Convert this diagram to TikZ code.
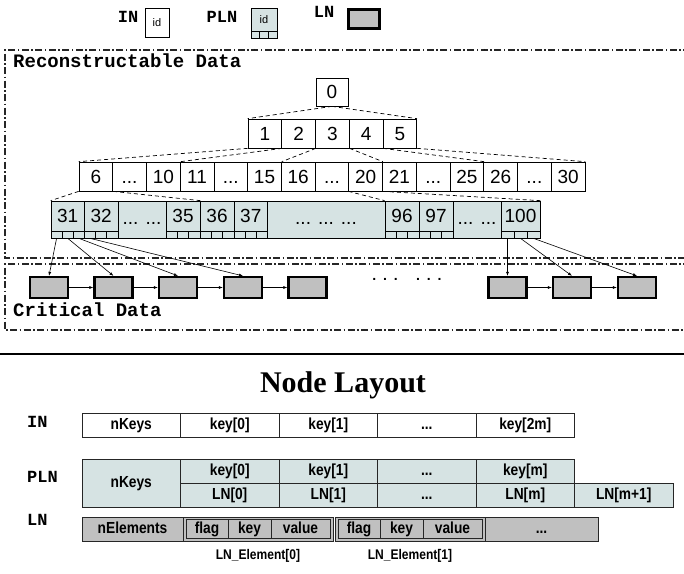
\documentclass[tikz,border=0pt]{standalone}
\usepackage{fontspec}
\setmainfont{Liberation Serif}
\setsansfont{Liberation Sans}
\setmonofont{Liberation Mono}
\newfontfamily\narrowfont[FakeStretch=0.86]{Liberation Sans}
\usetikzlibrary{arrows.meta, positioning, calc}
\definecolor{plnblue}{RGB}{214,227,227}
\definecolor{lngray}{RGB}{192,192,192}
\newcommand{\skipdots}{...}
\newcommand{\treefont}{\sffamily\fontsize{19}{21}\selectfont}
\newcommand{\tagfont}{\ttfamily\bfseries\fontsize{17}{19}\selectfont}
\newcommand{\fieldfont}{\narrowfont\bfseries\fontsize{16}{18}\selectfont}

\begin{document}
\begin{tikzpicture}[
    x=1pt, y=-1pt,
    idx/.style={
        draw=black,
        rectangle,
        minimum width=33.73,
        minimum height=29,
        inner sep=0pt,
        text height=13.5pt,
        text depth=0pt,
        line width=0.7pt,
        font=\treefont
    },
    pcell/.style={
        draw=black,
        fill=plnblue,
        rectangle,
        minimum height=30,
        inner sep=0pt,
        line width=0.7pt,
        font=\treefont
    },
    subcell/.style={
        draw=black,
        fill=plnblue,
        rectangle,
        minimum height=7,
        inner sep=0pt,
        line width=0.7pt
    },
    lnbox/.style={
        draw=black,
        fill=lngray,
        rectangle,
        minimum width=38,
        minimum height=21,
        inner sep=0pt,
        line width=2.2pt
    },
    link/.style={
        dash pattern=on 4pt off 3pt,
        line width=0.7pt
    },
    arrow/.style={
        -{Latex[length=4pt,width=3pt]},
        line width=0.6pt,
        draw=black
    },
    region/.style={
        dash pattern=on 7pt off 2.5pt on 1.5pt off 2.5pt,
        line width=1.1pt,
        draw=black!85
    },
    tag/.style={
        font=\tagfont,
        inner sep=1pt
    },
    field/.style={
        draw=black!85,
        rectangle,
        minimum height=24,
        inner sep=0pt,
        text height=11.5pt,
        text depth=3.5pt,
        line width=0.7pt,
        font=\fieldfont
    }
]
\useasboundingbox (0,0) rectangle (684,573);

% ============================================================
% Legend
% ============================================================

\node[tag] (kin) at (128,17) {IN};
\node[draw=black, minimum width=24, minimum height=29, inner sep=0pt,
      font=\sffamily\fontsize{11}{11}\selectfont] (kinbox) at (157,22.5) {id};

\node[tag] (kpln) at (222,17) {PLN};
\node[pcell, minimum width=26, minimum height=23,
      font=\sffamily\fontsize{11}{11}\selectfont] (kplbox) at (264,19.5) {id};
\foreach \s in {1,2,3}
    \node[subcell, minimum width=26/3] (kpl-\s) at ({251+26*(\s-0.5)/3},35) {};

\node[tag] (kln) at (324,12) {LN};
\node[lnbox, minimum width=31, minimum height=19] (klnbox) at (364,19) {};

% ============================================================
% Reconstructable data: index tree
% ============================================================

\draw[region] (690,50) -- (5,50) -- (5,258) -- (690,258);
\node[tag, anchor=west, font=\ttfamily\bfseries\fontsize{19}{21}\selectfont] (recon) at (12,61) {Reconstructable Data};

\node[idx, minimum width=32, minimum height=28] (r0) at (332,92) {0};

\foreach \k in {1,...,5}
    \node[idx] (a\k) at ({248+33.73*(\k-0.5)},133.5) {\k};

\foreach \t [count=\k] in {6,\skipdots,10,11,\skipdots,15,16,\skipdots,20,21,\skipdots,25,26,\skipdots,30}
    \node[idx] (b\k) at ({79+33.73*(\k-0.5)},176.5) {\t};

% packed leaf nodes
\node[draw=black, fill=plnblue, rectangle, minimum width=489, minimum height=37,
      inner sep=0pt, line width=0.7pt] (prow) at (295.5,219.5) {};
\foreach \t/\x/\w in {31/51/33.5, 32/84.5/33.5, 35/166/34, 36/200/34, 37/234/33.5,
                      96/385/34, 97/419/34, 100/501/39} {
    \node[pcell, minimum width=\w] (p\t) at ({\x+\w/2},216) {\t};
    \foreach \s in {1,2,3}
        \node[subcell, minimum width=\w/3] (p\t-\s) at ({\x+\w*(\s-0.5)/3},234.5) {};
}
\node[font=\treefont] (pd1) at (142,223) {... ...};
\node[font=\treefont] (pd2) at (326,223) {... ... ...};
\node[font=\treefont] (pd3) at (477,223) {... ...};

\draw[link] (r0.south) -- (a1.north west);
\draw[link] (r0.south) -- (a5.north east);

\draw[link] (a1.south west) -- (b1.north west);
\draw[link] (a1.south east) -- (b3.north east);
\draw[link] (a2.south east) -- (b6.north east);
\draw[link] (a3.south east) -- (b9.north east);
\draw[link] (a4.south east) -- (b12.north east);
\draw[link] (a5.south east) -- (b15.north east);

\draw[link] (b1.south west) -- (p31.north west);
\draw[link] (b1.south east) -- (p35.north east);
\draw[link] (b9.south west) -- (p96.north west);
\draw[link] (b9.south east) -- (p100.north east);

% ============================================================
% Critical data: leaf chain
% ============================================================

\draw[region] (690,264) -- (5,264) -- (5,330) -- (690,330);
\node[tag, anchor=west, font=\ttfamily\bfseries\fontsize{19}{21}\selectfont] (crit) at (12,310) {Critical Data};

\foreach \k/\x in {1/49, 2/113.5, 3/178, 4/243, 5/307.5}
    \node[lnbox] (c\k) at (\x,287.5) {};
\foreach \k/\x in {1/507.5, 2/572, 3/637}
    \node[lnbox] (d\k) at (\x,287.5) {};

\node[font=\ttfamily\bfseries\fontsize{14}{14}\selectfont] (cdots) at (407,279) {.\,.\,.\quad .\,.\,.};

\foreach \k [evaluate=\k as \n using int(\k+1)] in {1,...,4}
    \draw[arrow] (c\k.east) -- (c\n.west);
\draw[arrow] (d1.east) -- (d2.west);
\draw[arrow] (d2.east) -- (d3.west);

\draw[arrow] (p31-1.south) -- (c1.north);
\draw[arrow] (p31-2.south) -- (c2.north);
\draw[arrow] (p31-3.south) -- (c3.north);
\draw[arrow] (p32-1.south) -- (c4.north);

\draw[arrow] (p100-1.south) -- (d1.north);
\draw[arrow] (p100-2.south) -- (d2.north);
\draw[arrow] (p100-3.south) -- (d3.north);

% ============================================================
% Node layout
% ============================================================

\coordinate (sepl) at (0,354);
\coordinate (sepr) at (684,354);
\draw[line width=1.2pt] (sepl) -- (sepr);

\node[font=\rmfamily\bfseries\fontsize{30}{32}\selectfont] (title) at (343,385) {Node Layout};

% internal node
\node[tag, anchor=west] (lin) at (26,422) {IN};
\foreach \t [count=\k] in {nKeys,key[0],key[1],\skipdots,key[2m]}
    \node[field, minimum width=98.5] (in\k) at ({82+98.5*(\k-0.5)},425) {\t};

% packed leaf node
\node[tag, anchor=west] (lpln) at (26,477) {PLN};
\node[field, fill=plnblue, minimum width=98.5, minimum height=48] (pl0) at (131.25,483) {nKeys};
\foreach \t [count=\k] in {key[0],key[1],\skipdots,key[m]}
    \node[field, fill=plnblue, minimum width=98.5] (pk\k) at ({180.5+98.5*(\k-0.5)},471) {\t};
\foreach \t [count=\k] in {LN[0],LN[1],\skipdots,LN[m],LN[m+1]}
    \node[field, fill=plnblue, minimum width=98.5] (pp\k) at ({180.5+98.5*(\k-0.5)},495) {\t};

% leaf node
\node[tag, anchor=west] (lln) at (26,520) {LN};
\node[field, fill=lngray, minimum width=101] (le0) at (132.5,529) {nElements};
\foreach \g/\x in {1/183, 2/335} {
    \node[field, fill=lngray, minimum width=150] (g\g) at ({\x+75},529) {};
    \node[field, fill=lngray, minimum width=42, minimum height=19] (g\g f) at ({\x+24},529) {flag};
    \node[field, fill=lngray, minimum width=43, minimum height=19] (g\g k) at ({\x+66.5},529) {key};
    \node[field, fill=lngray, minimum width=59, minimum height=19] (g\g v) at ({\x+117.5},529) {value};
}
\node[field, fill=lngray, minimum width=113] (le3) at (541.5,529) {\skipdots};

\node[font=\narrowfont\bfseries\fontsize{14}{16}\selectfont, below=4pt of g1] (e1) {LN\_Element[0]};
\node[font=\narrowfont\bfseries\fontsize{14}{16}\selectfont, below=4pt of g2] (e2) {LN\_Element[1]};

\end{tikzpicture}
\end{document}
